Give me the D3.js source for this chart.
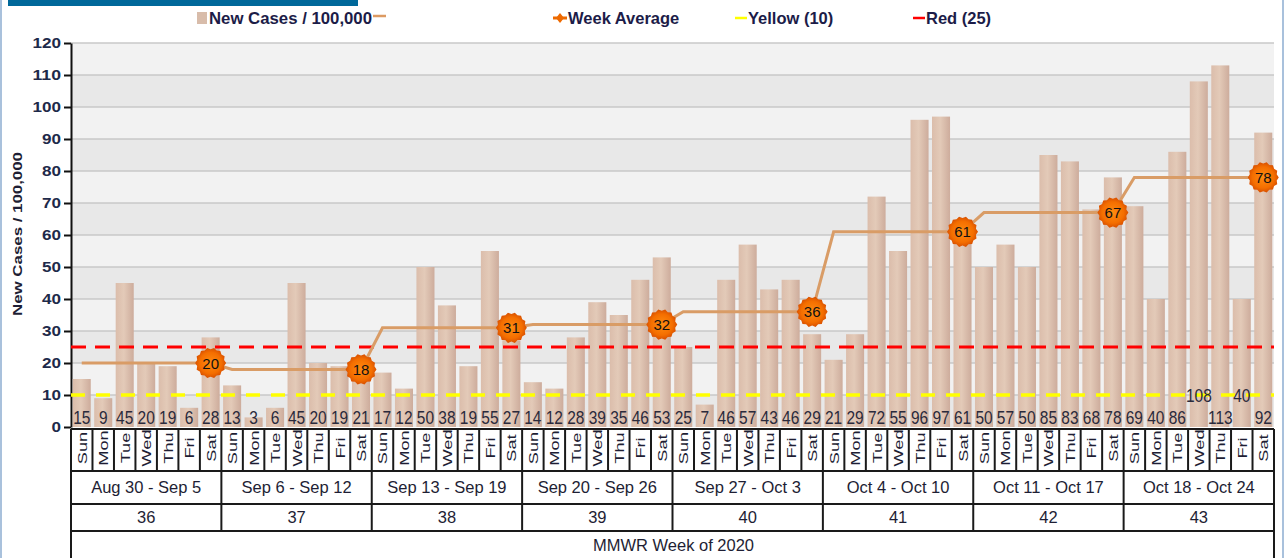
<!DOCTYPE html>
<html><head><meta charset="utf-8">
<script src="https://cdn.jsdelivr.net/npm/d3@7"></script>
<style>
html,body{margin:0;padding:0;background:#fff;}
svg{display:block;font-family:"Liberation Sans",Arial,sans-serif;}
</style></head>
<body>
<svg id="chart" width="1286" height="558"></svg>
<script>
const days = ["Sun","Mon","Tue","Wed","Thu","Fri","Sat"];
const weekRanges = ["Aug 30 - Sep 5","Sep 6 - Sep 12","Sep 13 - Sep 19","Sep 20 - Sep 26","Sep 27 - Oct 3","Oct 4 - Oct 10","Oct 11 - Oct 17","Oct 18 - Oct 24"];
const weekNumbers = ["36","37","38","39","40","41","42","43"];
const newCases = [
  15, 9, 45, 20, 19, 6, 28,
  13, 3, 6, 45, 20, 19, 21,
  17, 12, 50, 38, 19, 55, 27,
  14, 12, 28, 39, 35, 46, 53,
  25, 7, 46, 57, 43, 46, 29,
  21, 29, 72, 55, 96, 97, 61,
  50, 57, 50, 85, 83, 68, 78,
  69, 40, 86, 108, 113, 40, 92
];
const weekAverage = [20, 18, 31, 32, 36, 61, 67, 78];
const yellowLevel = 10;
const redLevel = 25;
const yTicks = [0,10,20,30,40,50,60,70,80,90,100,110,120];
const raisedLabels = [52, 54]; // labels drawn higher in the reference

const svg = d3.select("#chart");
const L = 71, R = 1274, T = 43, B = 427;
const font = "Liberation Sans, Arial, sans-serif";
const ink = "#1e1e34";

// frame decorations
svg.append("rect").attr("x",0).attr("y",0).attr("width",2).attr("height",558).attr("fill","#a9c1dc");
svg.append("rect").attr("x",1282).attr("y",0).attr("width",2).attr("height",558).attr("fill","#a9c1dc");
svg.append("rect").attr("x",8).attr("y",0).attr("width",350).attr("height",6).attr("fill","#00689a");

const idx = d3.range(newCases.length);
const x = d3.scaleBand().domain(idx).range([L, R]).paddingInner(0.16).paddingOuter(0.08);
const step = (R - L) / newCases.length;
const y = d3.scaleLinear().domain([0,120]).range([B, T]);

const defs = svg.append("defs");
const g = defs.append("linearGradient").attr("id","barGrad").attr("x1","0").attr("x2","1").attr("y1","0").attr("y2","0");
g.append("stop").attr("offset","0%").attr("stop-color","#dbbdab");
g.append("stop").attr("offset","45%").attr("stop-color","#e3cab8");
g.append("stop").attr("offset","100%").attr("stop-color","#cdac9c");
const rg = defs.append("radialGradient").attr("id","mk");
rg.append("stop").attr("offset","0%").attr("stop-color","#ff8c10");
rg.append("stop").attr("offset","70%").attr("stop-color","#f46e00");
rg.append("stop").attr("offset","100%").attr("stop-color","#d85000");

// background bands
yTicks.slice(0,-1).forEach((t,i) => {
  svg.append("rect").attr("x",L).attr("y",y(t+10)).attr("width",R-L).attr("height",y(t)-y(t+10))
    .attr("fill", i%2===0 ? "#e8e8e8" : "#f2f2f2");
});
svg.append("g").selectAll("line").data(yTicks.slice(1)).join("line")
  .attr("x1",L).attr("x2",R).attr("y1",d=>y(d)).attr("y2",d=>y(d))
  .attr("stroke","#c8c8c8").attr("stroke-width",1.5);

// y axis
const yAxis = svg.append("g").attr("transform",`translate(${L},0)`)
  .call(d3.axisLeft(y).tickValues(yTicks).tickSize(7).tickSizeOuter(0));
yAxis.select(".domain").attr("stroke","#111").attr("stroke-width",2);
yAxis.selectAll(".tick line").attr("stroke","#111").attr("stroke-width",2);
yAxis.selectAll(".tick text").attr("font-family",font).attr("font-size",14.5).attr("font-weight","bold")
  .attr("fill","#1e2a4a").attr("x",-10)
  .attr("textLength",d=>String(d).length*9.5).attr("lengthAdjust","spacingAndGlyphs");

svg.append("text").attr("transform",`translate(22,234) rotate(-90) scale(1.25,1)`)
  .attr("text-anchor","middle").attr("font-family",font).attr("font-size",13.5).attr("font-weight","bold")
  .attr("fill",ink).text("New Cases / 100,000");

// bars
svg.append("g").selectAll("rect").data(idx).join("rect")
  .attr("x",i=>x(i)).attr("width",x.bandwidth())
  .attr("y",i=>y(newCases[i])).attr("height",i=>B-y(newCases[i]))
  .attr("fill","url(#barGrad)");

// threshold lines
svg.append("line").attr("x1",L).attr("x2",R).attr("y1",y(redLevel)).attr("y2",y(redLevel))
  .attr("stroke","#ff0000").attr("stroke-width",3).attr("stroke-dasharray","15,9");
svg.append("line").attr("x1",L).attr("x2",R).attr("y1",y(yellowLevel)).attr("y2",y(yellowLevel))
  .attr("stroke","#ffff00").attr("stroke-width",3.5).attr("stroke-dasharray","14,11");

// bar value labels
svg.append("g").selectAll("text").data(idx).join("text")
  .attr("transform",i=>`translate(${x(i)+x.bandwidth()/2},${raisedLabels.includes(i) ? 402 : 424}) scale(1,1.2)`)
  .attr("text-anchor","middle").attr("font-family",font).attr("font-size",15.5)
  .attr("fill","#2a2a3c").text(i=>newCases[i]);

// week average line
const cx = i => x(i) + x.bandwidth()/2;
const pts = [];
weekAverage.forEach((v,w) => { pts.push([cx(w*7), y(v)]); pts.push([cx(w*7+6), y(v)]); });
svg.append("path").attr("d", d3.line()(pts)).attr("fill","none")
  .attr("stroke","#d99c66").attr("stroke-width",3);

// markers
const star = (r1, r2, n) => {
  const p = [];
  for (let k=0;k<n*2;k++){ const a = Math.PI*k/n; const r = k%2? r2 : r1; p.push([r*Math.cos(a), r*Math.sin(a)]); }
  return "M" + p.map(d=>d.join(",")).join("L") + "Z";
};
const mk = svg.append("g").selectAll("g").data(weekAverage).join("g")
  .attr("transform",(v,w)=>`translate(${cx(w*7+6)},${y(v)})`);
mk.append("path").attr("d", star(15.5, 13.8, 14)).attr("fill","url(#mk)");
mk.append("text").attr("y",5.5).attr("text-anchor","middle").attr("font-family",font).attr("font-size",15)
  .attr("fill","#111").text(v=>v);

// table
const rows = [429, 471, 504, 531];
const tbl = svg.append("g").attr("stroke","#1a1a1a").attr("stroke-width",2).attr("fill","none");
rows.forEach(r => tbl.append("line").attr("x1",L).attr("x2",R).attr("y1",r).attr("y2",r));
tbl.append("line").attr("x1",L).attr("x2",L).attr("y1",429).attr("y2",558);
tbl.append("line").attr("x1",R).attr("x2",R).attr("y1",429).attr("y2",558);
idx.slice(1).forEach(i => {
  const xx = L + step*i;
  tbl.append("line").attr("x1",xx).attr("x2",xx).attr("y1",429).attr("y2", i%7===0 ? 531 : 471);
});
// day labels
svg.append("g").selectAll("text").data(idx).join("text")
  .attr("transform",i=>`translate(${L+step*i+step/2+5},448) rotate(-90) scale(1.35,1)`)
  .attr("text-anchor","middle").attr("font-family",font).attr("font-size",13.5)
  .attr("fill",ink).text(i=>days[i%7]);
// week ranges
svg.append("g").selectAll("text").data(weekRanges).join("text")
  .attr("x",(d,w)=>L+step*7*(w+0.5)).attr("y",493)
  .attr("text-anchor","middle").attr("font-family",font).attr("font-size",16.5)
  .attr("fill",ink).text(d=>d);
svg.append("g").selectAll("text").data(weekNumbers).join("text")
  .attr("x",(d,w)=>L+step*7*(w+0.5)).attr("y",523)
  .attr("text-anchor","middle").attr("font-family",font).attr("font-size",16.5)
  .attr("fill",ink).text(d=>d);
svg.append("text").attr("x",(L+R)/2+1).attr("y",551).attr("text-anchor","middle")
  .attr("font-family",font).attr("font-size",16.5).attr("fill",ink).text("MMWR Week of 2020");

// legend
const lg = svg.append("g").attr("font-family",font).attr("font-size",16.5).attr("font-weight","bold").attr("fill","#1c1c48");
lg.append("rect").attr("x",197).attr("y",12).attr("width",10).attr("height",12).attr("fill","#d8bcaa");
lg.append("text").attr("x",209).attr("y",24).attr("textLength",163).attr("lengthAdjust","spacingAndGlyphs").text("New Cases / 100,000");
lg.append("line").attr("x1",373).attr("x2",386).attr("y1",16).attr("y2",16).attr("stroke","#dc9a62").attr("stroke-width",2.5);
lg.append("path").attr("d","M556,18 L560,13 L564,18 L560,23 Z").attr("fill","#ee6a00");
lg.append("rect").attr("x",553).attr("y",16.5).attr("width",14).attr("height",3).attr("fill","#ee6a00");
lg.append("text").attr("x",568).attr("y",24).text("Week Average");
lg.append("line").attr("x1",735).attr("x2",747).attr("y1",18).attr("y2",18).attr("stroke","#ffff00").attr("stroke-width",2.5);
lg.append("text").attr("x",748).attr("y",24).text("Yellow (10)");
lg.append("line").attr("x1",913).attr("x2",925).attr("y1",18).attr("y2",18).attr("stroke","#ff0000").attr("stroke-width",2.5);
lg.append("text").attr("x",926).attr("y",24).text("Red (25)");
</script>
</body></html>
